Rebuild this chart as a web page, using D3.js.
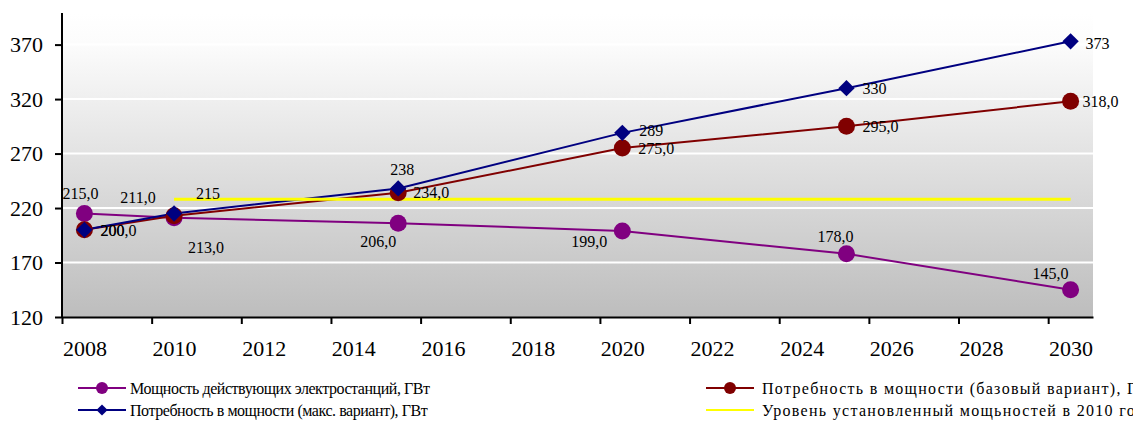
<!DOCTYPE html>
<html>
<head>
<meta charset="utf-8">
<script src="https://cdnjs.cloudflare.com/ajax/libs/d3/7.8.5/d3.min.js"></script>
<style>
    body { margin: 0; background: #fff; }
    svg { display: block; overflow: hidden; }
    text { font-family: "Liberation Serif", "Times New Roman", Times, "DejaVu Serif", serif; fill: #000; }
</style>
</head>
<body>
<div id="graph"></div>
<script>
// data
var years = [2008, 2010, 2015, 2020, 2025, 2030];
var capacityActive = [215, 211, 206, 199, 178, 145];
var demandBase = [200, 213, 234, 275, 295, 318];
var demandMax = [200, 215, 238, 289, 330, 373];
var level2010Years = [2010, 2030];
var level2010 = [228, 228];

var yTicks = [120, 170, 220, 270, 320, 370];
var xLabelYears = [2008, 2010, 2012, 2014, 2016, 2018, 2020, 2022, 2024, 2026, 2028, 2030];

var seriesNames = [
    "Мощность действующих электростанций, ГВт",
    "Потребность в мощности (базовый вариант), ГВт",
    "Потребность в мощности (макс. вариант), ГВт",
    "Уровень установленный мощьностей в 2010 году"
];

// layout
let svgWidth = 1133;
let svgHeight = 427;
let plotLeft = 62, plotRight = 1093, plotTop = 13, plotBottom = 317;
let serif = '"Liberation Serif", "Times New Roman", Times, "DejaVu Serif", serif';

// label offsets (centre of label relative to point)
var activeLabelPos = [[-4, -20], [-36, -20], [-20, 18], [-33, 10], [-11, -17], [-20, -16]];
var baseLabelPos = [[34, 1], [32, 32], [33, 0], [34, 0], [34, 0], [30, 0]];
var maxLabelPos = [[28, 1], [34, -20], [4, -19], [29, -2], [28, 0], [27, 2]];

let xScale = d3.scaleLinear()
    .domain([2007.5, 2030.5])
    .range([plotLeft, plotRight]);

let yScale = d3.scaleLinear()
    .domain([120, 399])
    .range([plotBottom, plotTop]);

document.addEventListener('DOMContentLoaded', init);

function init() {
    let svg = d3.select("#graph")
        .append("svg")
        .attr("width", svgWidth)
        .attr("height", svgHeight)
        .style("font-family", serif);

    // background gradient
    let grad = svg.append("defs").append("linearGradient")
        .attr("id", "bg")
        .attr("x1", 0).attr("y1", 0).attr("x2", 0).attr("y2", 1);
    grad.append("stop").attr("offset", "0%").attr("stop-color", "#ffffff");
    grad.append("stop").attr("offset", "10%").attr("stop-color", "#fcfcfc");
    grad.append("stop").attr("offset", "100%").attr("stop-color", "#bdbdbd");

    svg.append("rect")
        .attr("x", plotLeft)
        .attr("y", plotTop)
        .attr("width", plotRight - plotLeft)
        .attr("height", plotBottom - plotTop)
        .attr("fill", "url(#bg)");

    // grid lines
    svg.selectAll(".grid")
        .data(yTicks.slice(1))
        .enter()
        .append("line")
        .attr("class", "grid")
        .attr("x1", plotLeft)
        .attr("x2", plotRight)
        .attr("y1", (d) => yScale(d))
        .attr("y2", (d) => yScale(d))
        .attr("stroke", "#fff")
        .attr("stroke-width", 2);

    let line = d3.line()
        .x((d) => xScale(d[0]))
        .y((d) => yScale(d[1]));

    let series = [
        { values: capacityActive, color: "#800080", marker: "circle", pos: activeLabelPos, fmt: (d) => d.toFixed(1).replace(".", ",") },
        { values: demandBase, color: "#800000", marker: "circle", pos: baseLabelPos, fmt: (d) => d.toFixed(1).replace(".", ",") },
        { values: demandMax, color: "#000080", marker: "diamond", pos: maxLabelPos, fmt: (d) => String(d) }
    ];

    // lines
    series.forEach((s) => {
        svg.append("path")
            .datum(years.map((y, i) => [y, s.values[i]]))
            .attr("d", line)
            .attr("fill", "none")
            .attr("stroke", s.color)
            .attr("stroke-width", 2);
    });

    svg.append("path")
        .datum(level2010Years.map((y, i) => [y, level2010[i]]))
        .attr("d", line)
        .attr("fill", "none")
        .attr("stroke", "#ffff00")
        .attr("stroke-width", 3);

    // markers
    let diamond = d3.symbol().type(d3.symbolDiamond2).size(170);
    series.forEach((s) => {
        let g = svg.append("g");
        if (s.marker == "circle") {
            g.selectAll("circle")
                .data(s.values)
                .enter()
                .append("circle")
                .attr("cx", (d, i) => xScale(years[i]))
                .attr("cy", (d) => yScale(d))
                .attr("r", 8.5)
                .attr("fill", s.color);
        } else {
            g.selectAll("path")
                .data(s.values)
                .enter()
                .append("path")
                .attr("d", diamond)
                .attr("transform", (d, i) => "translate(" + xScale(years[i]) + "," + yScale(d) + ")")
                .attr("fill", s.color);
        }
    });

    // data labels (blue 2008 label sits under the "200,0" one, as in the source)
    series.slice().reverse().forEach((s) => {
        svg.append("g").selectAll("text")
            .data(s.values)
            .enter()
            .append("text")
            .text(s.fmt)
            .attr("x", (d, i) => xScale(years[i]) + s.pos[i][0])
            .attr("y", (d, i) => yScale(d) + s.pos[i][1])
            .attr("dy", "0.35em")
            .attr("text-anchor", "middle")
            .attr("font-family", serif)
            .attr("font-size", "16px");
    });

    // axes
    let yAxis = d3.axisLeft(yScale)
        .tickValues(yTicks)
        .tickSize(7)
        .tickSizeOuter(0)
        .tickPadding(12);

    let yg = svg.append("g")
        .attr("transform", "translate(" + plotLeft + ",0)")
        .call(yAxis);

    let xTicks = d3.range(2007.5, 2030, 2);
    let xAxis = d3.axisBottom(xScale)
        .tickValues(xTicks)
        .tickFormat("")
        .tickSize(7)
        .tickSizeOuter(0);

    let xg = svg.append("g")
        .attr("transform", "translate(0," + plotBottom + ")")
        .call(xAxis);

    let xLabels = d3.axisBottom(xScale)
        .tickValues(xLabelYears)
        .tickFormat(d3.format("d"))
        .tickSize(0)
        .tickSizeOuter(0)
        .tickPadding(23);

    let xlg = svg.append("g")
        .attr("transform", "translate(0," + plotBottom + ")")
        .call(xLabels);
    xlg.select(".domain").remove();

    [yg, xg, xlg].forEach((g) => {
        g.attr("font-family", serif);
        g.selectAll("text")
            .attr("font-family", serif)
            .attr("font-size", "22px")
            .attr("fill", "#000");
        g.selectAll("line").attr("stroke", "#000").attr("stroke-width", 2);
        g.select(".domain").attr("stroke", "#000").attr("stroke-width", 2);
    });
    yg.select(".domain").attr("d", "M0," + plotTop + "V" + plotBottom);

    // legend
    let legendItems = [
        { name: seriesNames[0], color: "#800080", marker: "circle", x: 78, y: 388, sp: -0.45 },
        { name: seriesNames[1], color: "#800000", marker: "circle", x: 706, y: 388, sp: 1.3 },
        { name: seriesNames[2], color: "#000080", marker: "diamond", x: 78, y: 410, sp: -0.45 },
        { name: seriesNames[3], color: "#ffff00", marker: "none", x: 706, y: 410, sp: 1.3 }
    ];

    let legend = svg.append("g");
    legendItems.forEach((d) => {
        let g = legend.append("g").attr("transform", "translate(" + d.x + "," + d.y + ")");
        g.append("line")
            .attr("x1", 0).attr("x2", 48)
            .attr("y1", 0).attr("y2", 0)
            .attr("stroke", d.color)
            .attr("stroke-width", 2);
        if (d.marker == "circle") {
            g.append("circle").attr("cx", 24).attr("cy", 0).attr("r", 6).attr("fill", d.color);
        } else if (d.marker == "diamond") {
            g.append("path")
                .attr("d", d3.symbol().type(d3.symbolDiamond2).size(80))
                .attr("transform", "translate(24,0)")
                .attr("fill", d.color);
        }
        g.append("text")
            .attr("x", d.sp > 0 ? 56 : 52)
            .attr("y", 0)
            .attr("dy", "0.35em")
            .attr("font-family", serif)
            .attr("font-size", "16px")
            .attr("letter-spacing", d.sp)
            .text(d.name);
    });
}
</script>
</body>
</html>
